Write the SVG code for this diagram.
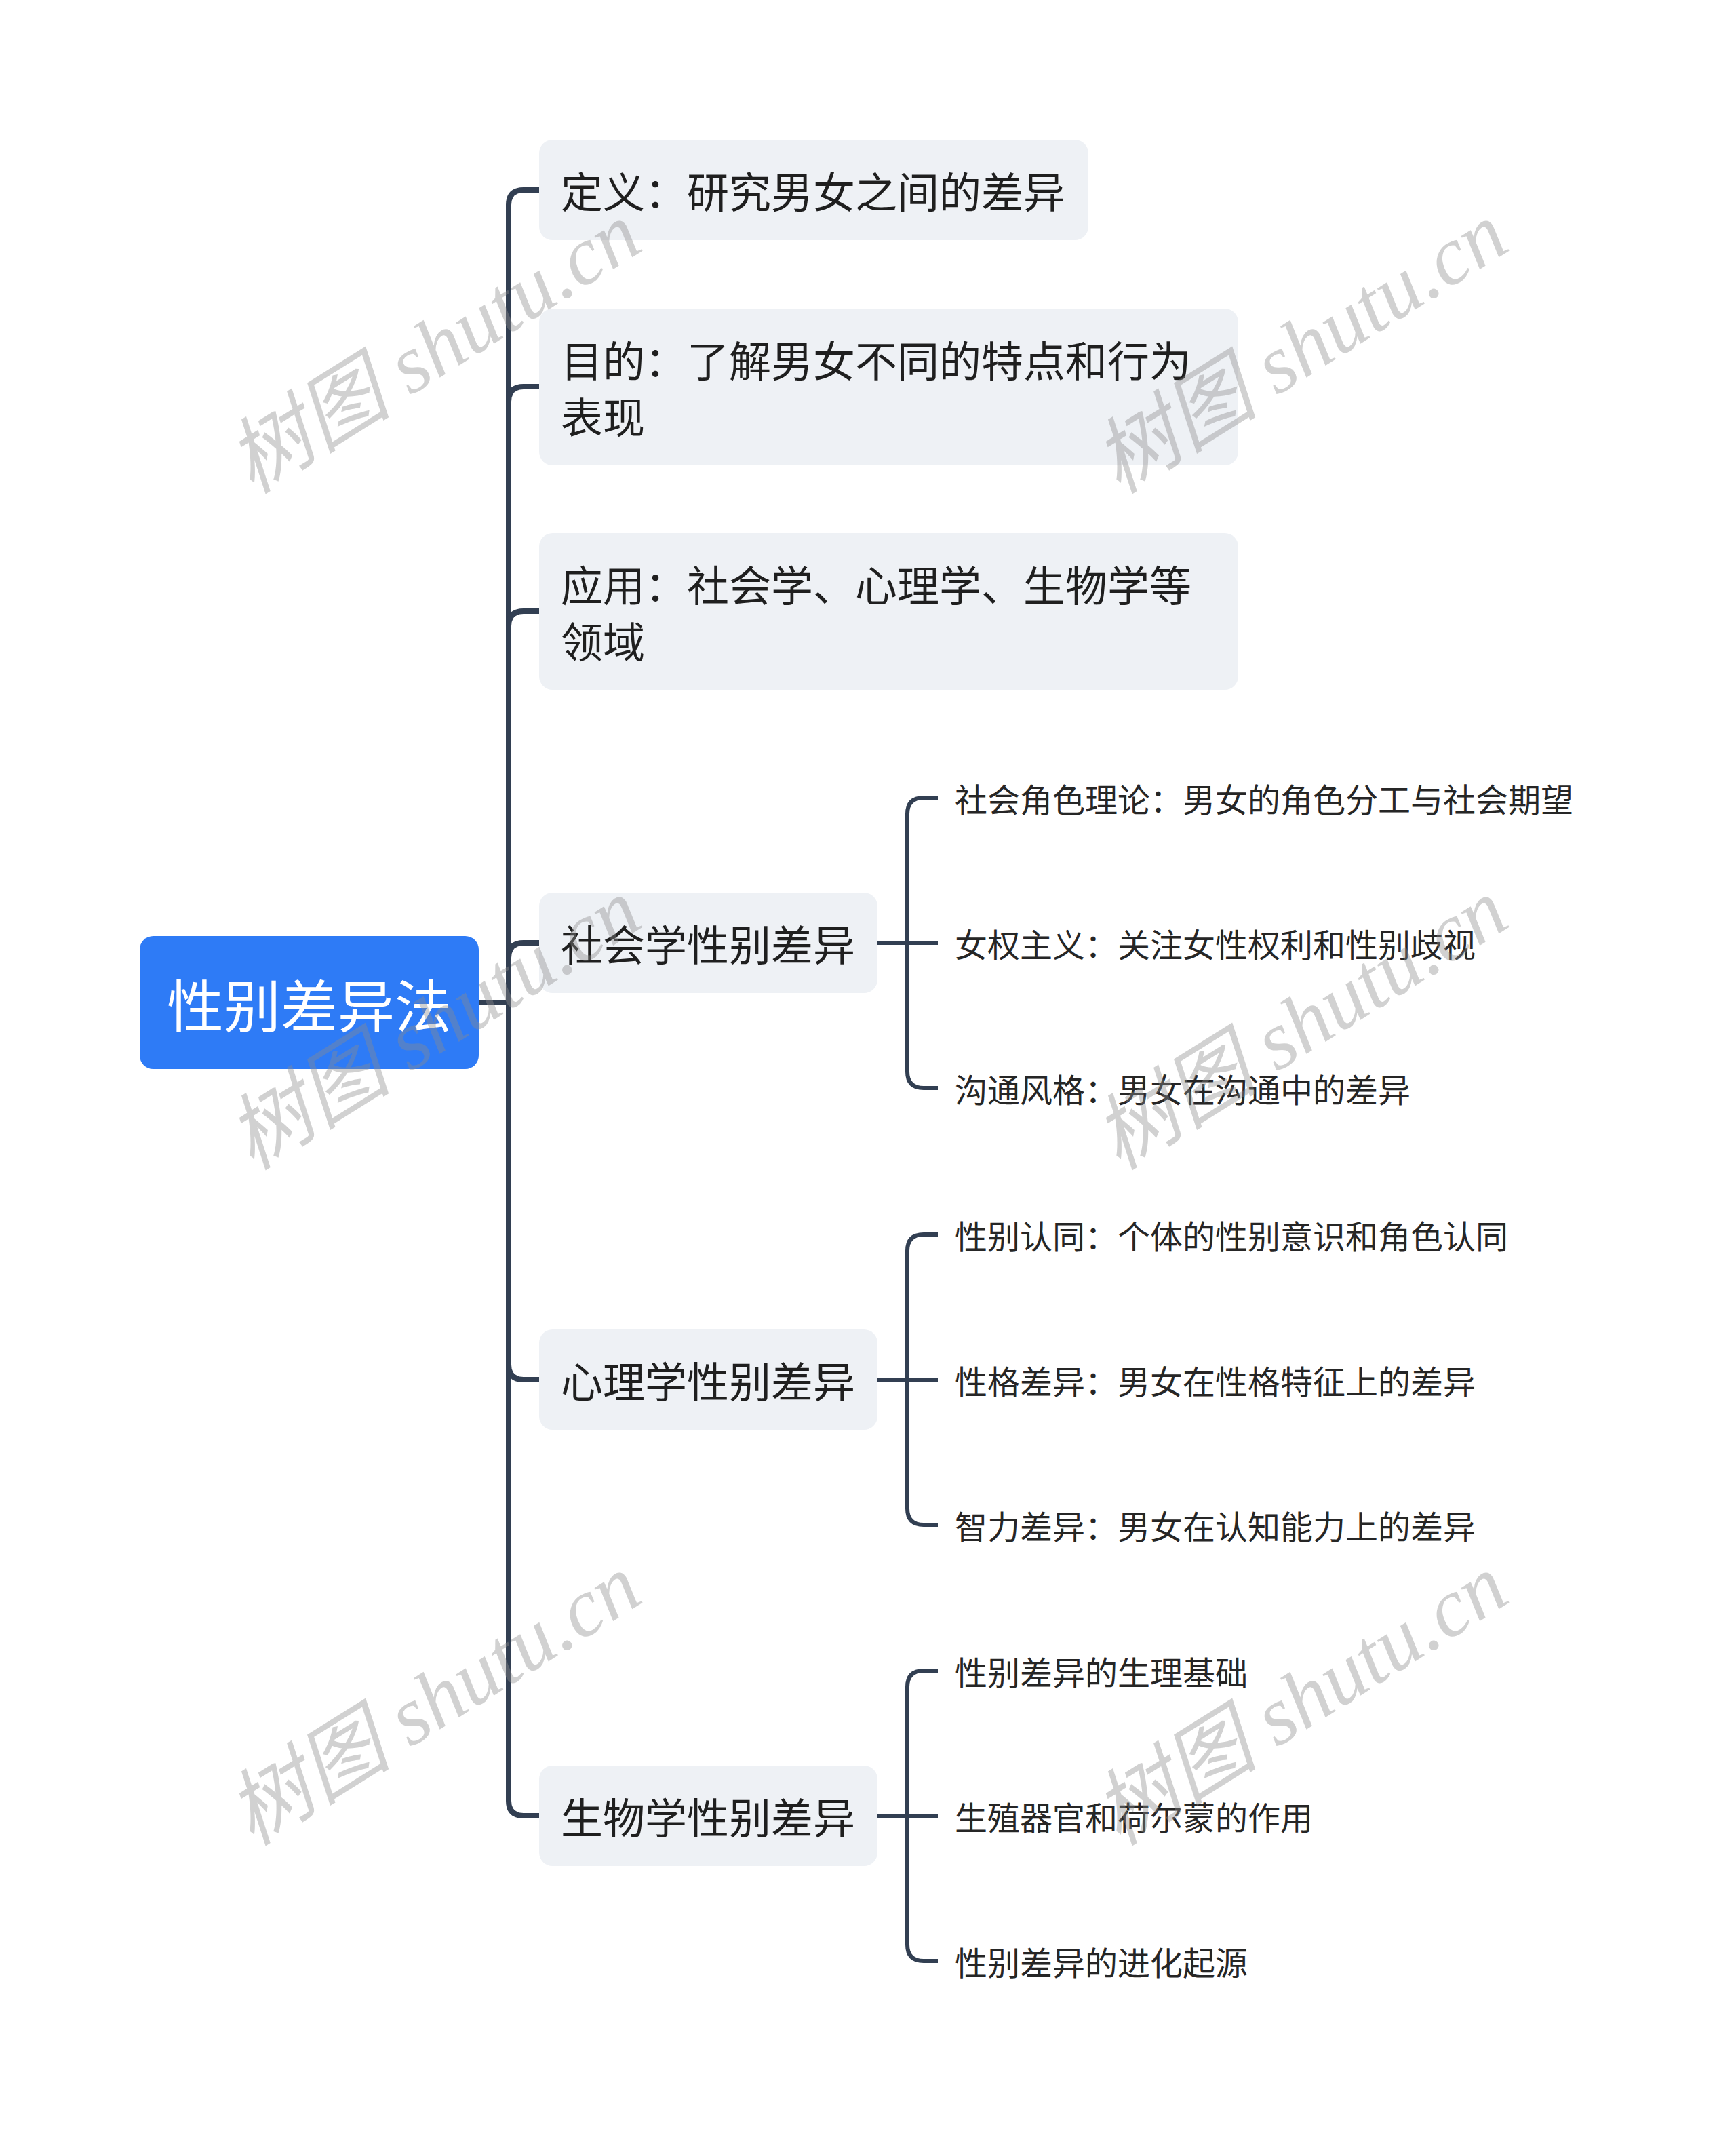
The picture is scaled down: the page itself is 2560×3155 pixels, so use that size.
<svg xmlns="http://www.w3.org/2000/svg" width="2560" height="3155" viewBox="0 0 2560 3155">
<style>
.bg{fill:#ffffff}
.root{fill:#2e7bf6}
.rootT{fill:#ffffff;font-family:"Noto Sans CJK SC","Noto Sans",sans-serif;font-size:84px}
.l1{fill:#eef1f5}
.l1T{fill:#1f1f1f;font-family:"Noto Sans CJK SC","Noto Sans",sans-serif;font-size:62px}
.l2T{fill:#262626;font-family:"Noto Sans CJK SC","Noto Sans",sans-serif;font-size:48px}
.c1{fill:none;stroke:#323f52;stroke-width:8}
.c2{fill:none;stroke:#323f52;stroke-width:6}
.wm{fill:#8c8c8c;fill-opacity:0.4;font-family:"Liberation Serif","Noto Sans CJK SC",serif;font-style:italic;font-size:122px}
</style>
<rect class="bg" x="0" y="0" width="2560" height="3155"/>
<g id="connectors">
<path class="c1" d="M706 1478 H750"/>
<path class="c1" d="M750 1478 V302 Q750 280 772 280 H795"/>
<path class="c1" d="M750 1478 V592 Q750 570 772 570 H795"/>
<path class="c1" d="M750 1478 V923 Q750 901 772 901 H795"/>
<path class="c1" d="M750 1478 V1412 Q750 1390 772 1390 H795"/>
<path class="c1" d="M750 1478 V2012 Q750 2034 772 2034 H795"/>
<path class="c1" d="M750 1478 V2655 Q750 2677 772 2677 H795"/>
<path class="c2" d="M1294 1390 H1383"/>
<path class="c2" d="M1338 1390 V1200 Q1338 1176 1362 1176 H1383"/>
<path class="c2" d="M1338 1390 V1580 Q1338 1604 1362 1604 H1383"/>
<path class="c2" d="M1294 2034 H1383"/>
<path class="c2" d="M1338 2034 V1844 Q1338 1820 1362 1820 H1383"/>
<path class="c2" d="M1338 2034 V2224 Q1338 2248 1362 2248 H1383"/>
<path class="c2" d="M1294 2677 H1383"/>
<path class="c2" d="M1338 2677 V2487 Q1338 2463 1362 2463 H1383"/>
<path class="c2" d="M1338 2677 V2867 Q1338 2891 1362 2891 H1383"/>
</g>
<g id="root">
<rect class="root" x="206" y="1380" width="500" height="196" rx="20"/>
<text class="rootT" x="456" y="1478" text-anchor="middle" dominant-baseline="central">性别差异法</text>
</g>
<g id="n1">
<rect class="l1" x="795" y="206" width="810" height="148" rx="20"/>
<text class="l1T" x="827" y="280" dominant-baseline="central">定义：研究男女之间的差异</text>
</g>
<g id="n2">
<rect class="l1" x="795" y="455" width="1031" height="231" rx="20"/>
<text class="l1T" x="827" y="529" dominant-baseline="central">目的：了解男女不同的特点和行为</text>
<text class="l1T" x="827" y="612" dominant-baseline="central">表现</text>
</g>
<g id="n3">
<rect class="l1" x="795" y="786" width="1031" height="231" rx="20"/>
<text class="l1T" x="827" y="860" dominant-baseline="central">应用：社会学、心理学、生物学等</text>
<text class="l1T" x="827" y="943" dominant-baseline="central">领域</text>
</g>
<g id="n4">
<rect class="l1" x="795" y="1316" width="499" height="148" rx="20"/>
<text class="l1T" x="827" y="1390" dominant-baseline="central">社会学性别差异</text>
</g>
<g id="n4a"><text class="l2T" x="1408" y="1176" dominant-baseline="central">社会角色理论：男女的角色分工与社会期望</text></g>
<g id="n4b"><text class="l2T" x="1408" y="1390" dominant-baseline="central">女权主义：关注女性权利和性别歧视</text></g>
<g id="n4c"><text class="l2T" x="1408" y="1604" dominant-baseline="central">沟通风格：男女在沟通中的差异</text></g>
<g id="n5">
<rect class="l1" x="795" y="1960" width="499" height="148" rx="20"/>
<text class="l1T" x="827" y="2034" dominant-baseline="central">心理学性别差异</text>
</g>
<g id="n5a"><text class="l2T" x="1408" y="1820" dominant-baseline="central">性别认同：个体的性别意识和角色认同</text></g>
<g id="n5b"><text class="l2T" x="1408" y="2034" dominant-baseline="central">性格差异：男女在性格特征上的差异</text></g>
<g id="n5c"><text class="l2T" x="1408" y="2248" dominant-baseline="central">智力差异：男女在认知能力上的差异</text></g>
<g id="n6">
<rect class="l1" x="795" y="2603" width="499" height="148" rx="20"/>
<text class="l1T" x="827" y="2677" dominant-baseline="central">生物学性别差异</text>
</g>
<g id="n6a"><text class="l2T" x="1408" y="2463" dominant-baseline="central">性别差异的生理基础</text></g>
<g id="n6b"><text class="l2T" x="1408" y="2677" dominant-baseline="central">生殖器官和荷尔蒙的作用</text></g>
<g id="n6c"><text class="l2T" x="1408" y="2891" dominant-baseline="central">性别差异的进化起源</text></g>
<g id="watermarks">
<text class="wm" transform="translate(640 513) rotate(-32)" text-anchor="middle" dominant-baseline="central">树图 shutu.cn</text>
<text class="wm" transform="translate(1918 513) rotate(-32)" text-anchor="middle" dominant-baseline="central">树图 shutu.cn</text>
<text class="wm" transform="translate(640 1510) rotate(-32)" text-anchor="middle" dominant-baseline="central">树图 shutu.cn</text>
<text class="wm" transform="translate(1918 1510) rotate(-32)" text-anchor="middle" dominant-baseline="central">树图 shutu.cn</text>
<text class="wm" transform="translate(640 2506) rotate(-32)" text-anchor="middle" dominant-baseline="central">树图 shutu.cn</text>
<text class="wm" transform="translate(1918 2506) rotate(-32)" text-anchor="middle" dominant-baseline="central">树图 shutu.cn</text>
</g>
</svg>
